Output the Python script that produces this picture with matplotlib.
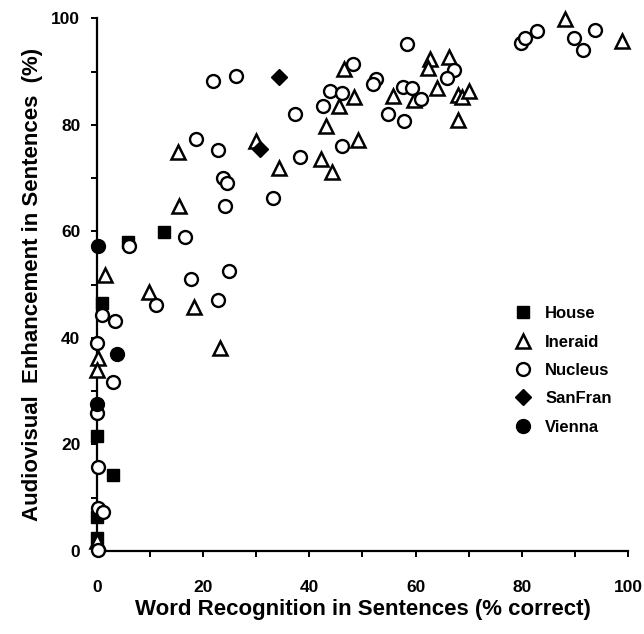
import matplotlib
matplotlib.use("Agg")
import matplotlib.pyplot as plt

plt.rcParams['font.family'] = ['Liberation Sans', 'DejaVu Sans']
plt.rcParams['font.weight'] = 'bold'

# word recognition (% correct) vs audiovisual enhancement (%)
house_x = [5.8, 12.6, 0.9, 0.0, 3.1, 0.0, 0.0]
house_y = [58.0, 59.9, 46.5, 21.6, 14.3, 6.3, 2.4]

ineraid_x = [62.7, 62.4, 66.3, 46.5, 55.7, 59.7, 64.0, 68.0, 68.7, 70.1, 68.0,
             48.4, 45.6, 43.1, 49.2, 42.1, 44.3, 88.2, 98.9, 29.9, 15.2, 34.3,
             15.4, 1.5, 9.8, 18.3, 23.2, 0.2, 0.0, 0.0]
ineraid_y = [92.3, 90.6, 92.7, 90.5, 85.4, 84.6, 86.9, 85.6, 85.3, 86.4, 80.9,
             85.3, 83.6, 79.8, 77.2, 73.6, 71.1, 99.8, 95.8, 76.9, 75.0, 71.9,
             64.8, 51.8, 48.7, 45.9, 38.2, 36.2, 34.0, 1.8]

nucleus_x = [58.4, 67.2, 66.0, 48.3, 52.5, 52.0, 57.7, 59.3, 61.0, 54.9, 57.9,
             43.9, 46.1, 42.5, 37.3, 46.2, 38.3, 79.8, 80.7, 82.9, 89.8, 91.6,
             93.8, 21.9, 26.2, 18.6, 22.7, 23.7, 24.4, 33.2, 24.1, 6.1, 16.6,
             17.8, 24.9, 22.8, 11.1, 0.9, 3.4, 0.0, 3.1, 0.0, 0.2, 0.2, 1.1, 0.2]
nucleus_y = [95.2, 90.3, 88.9, 91.4, 88.6, 87.7, 87.2, 86.9, 84.8, 82.1, 80.8,
             86.4, 86.0, 83.6, 82.0, 76.1, 74.0, 95.3, 96.4, 97.7, 96.4, 94.1,
             97.8, 88.3, 89.1, 77.3, 75.3, 70.0, 69.0, 66.2, 64.8, 57.3, 58.9,
             51.0, 52.6, 47.1, 46.2, 44.3, 43.1, 39.0, 31.8, 25.9, 15.8, 8.0, 7.4, 0.2]

sanfran_x = [34.3, 30.7]
sanfran_y = [89.0, 75.5]

vienna_x = [0.1, 3.7, 0.0]
vienna_y = [57.2, 37.0, 27.6]

fig = plt.figure(figsize=(6.44, 6.34), dpi=100)
ax = fig.add_axes([0.1506, 0.131, 0.8244, 0.84])

kw = dict(linestyle='none', clip_on=False, zorder=3, markeredgecolor='black')
ax.plot(house_x, house_y, marker='s', markersize=9, markerfacecolor='black', label='House', **kw)
ax.plot(ineraid_x, ineraid_y, marker='^', markersize=9.5, markerfacecolor='white',
        markeredgewidth=1.8, label='Ineraid', **kw)
ax.plot(nucleus_x, nucleus_y, marker='o', markersize=9.3, markerfacecolor='white',
        markeredgewidth=1.7, label='Nucleus', **kw)
ax.plot(sanfran_x, sanfran_y, marker='D', markersize=8, markerfacecolor='black', label='SanFran', **kw)
ax.plot(vienna_x, vienna_y, marker='o', markersize=10, markerfacecolor='black', label='Vienna', **kw)

ax.set_xlim(0, 100)
ax.set_ylim(0, 100)
ax.spines['top'].set_visible(False)
ax.spines['right'].set_visible(False)
ax.spines['left'].set_linewidth(1.6)
ax.spines['bottom'].set_linewidth(1.6)

ax.set_xticks(range(0, 101, 20))
ax.set_xticks(range(0, 101, 10), minor=True)
ax.set_yticks(range(0, 101, 20))
ax.set_yticks(range(0, 101, 10), minor=True)
ax.tick_params(axis='both', which='both', direction='out', length=4, width=1.4)
ax.tick_params(axis='x', which='major', pad=17, labelsize=12.5)
ax.tick_params(axis='y', which='major', pad=8, labelsize=12.5)

ax.set_xlabel('Word Recognition in Sentences (% correct)', fontsize=16, fontweight='bold', labelpad=3)
ax.set_ylabel('Audiovisual  Enhancement in Sentences  (%)', fontsize=16, fontweight='bold', labelpad=6)

ax.legend(loc='upper left', bbox_to_anchor=(0.775, 0.472), frameon=False, fontsize=12,
          handlelength=1.0, handletextpad=0.8, labelspacing=0.8, borderaxespad=0)

fig.savefig('out.png', dpi=100)
